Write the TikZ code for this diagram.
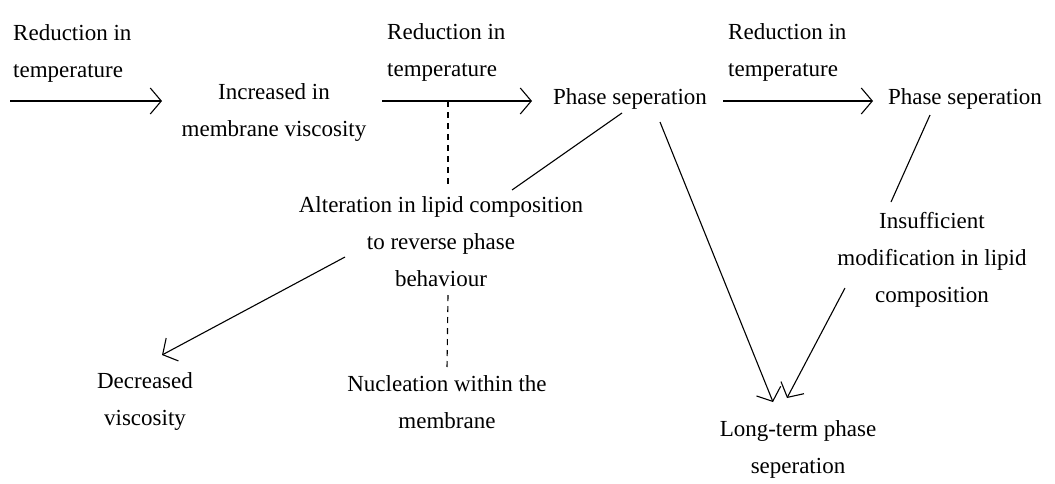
\documentclass[tikz,border=0pt]{standalone}
\usepackage{fontspec}
\setmainfont{Liberation Serif}
\usetikzlibrary{arrows.meta}

\tikzset{
  txt/.style={align=center, inner sep=0pt, font=\fontsize{23}{37}\selectfont},
  plain/.style={line width=1.1pt},
  flow/.style={plain, -{Straight Barb[length=11pt,width=26pt]}},
  hint/.style={plain, dash pattern=on 6pt off 5pt}
}

\begin{document}
\begin{tikzpicture}[x=1pt,y=-1pt]
      \useasboundingbox (0,0) rectangle (1055,483);
      % \draw[help lines,step=50] (0,0) grid (1055,483);
      \node [txt,align=left,anchor=west] (coolFirst) at (13,53)
      {Reduction in\\temperature}; \coordinate (coolStart) at (10,101);
      \node [txt] (viscUp) at (274,112) {Increased in\\membrane viscosity};

      \node [txt,align=left,anchor=west] (coolSecond) at (387,52)
      {Reduction in\\temperature}; \coordinate (coolCut) at (448,101);
      \node [txt] (phaseMid) at (630,99) {Phase seperation};

      \node [txt,align=left,anchor=west] (coolThird) at (728,52)
      {Reduction in\\temperature};
      \node [txt] (phaseRight) at (965,99) {Phase seperation};

      \node [txt] (lipidAlter) at (441,242)
      {Alteration in lipid composition\\to reverse phase\\behaviour};
      \node [txt] (viscDown) at (145,401) {Decreased\\viscosity};
      \node [txt] (nucleation) at (447,402) {Nucleation within the\\membrane};
      \node [txt] (lipidShort) at (932,260)
      {Insufficient\\modification in lipid\\composition};
      \node [txt] (phaseLong) at (798,449) {Long-term phase\\seperation};

      \draw [flow] (coolStart) -- ([shift={(-112,-11)}]viscUp.center);
      \draw [flow] ([shift={(108,-11)}]viscUp.center) --
      ([shift={(-98,2)}]phaseMid.center);
      \draw [flow] ([shift={(93,2)}]phaseMid.center) --
      ([shift={(-92,2)}]phaseRight.center);

      \draw [hint] (coolCut) -- ([shift={(7,-54)}]lipidAlter.center);
      \draw [hint] ([shift={(7,53)}]lipidAlter.center) --
      ([shift={(0,-34)}]nucleation.center);

      \draw [plain] ([shift={(-8,14)}]phaseMid.center) --
      ([shift={(71,-52)}]lipidAlter.center);
      \draw [flow] ([shift={(-96,15)}]lipidAlter.center) --
      ([shift={(17,-46)}]viscDown.center);
      \draw [flow] ([shift={(30,23)}]phaseMid.center) --
      ([shift={(-25,-47)}]phaseLong.center);

      \draw [plain] ([shift={(-35,16)}]phaseRight.center) --
      ([shift={(-41,-58)}]lipidShort.center);
      \draw [flow] ([shift={(-87,28)}]lipidShort.center) --
      ([shift={(-11,-51)}]phaseLong.center);
\end{tikzpicture}
\end{document}
